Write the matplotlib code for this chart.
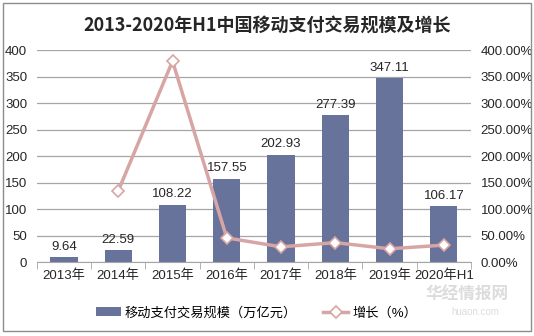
import matplotlib.pyplot as plt
import numpy as np
from matplotlib.patches import Rectangle
from matplotlib.ticker import FuncFormatter

plt.rcParams['font.family'] = ['Liberation Sans', 'Noto Sans CJK SC']

years = ["2013年", "2014年", "2015年", "2016年", "2017年", "2018年", "2019年", "2020年H1"]
scale = [9.64, 22.59, 108.22, 157.55, 202.93, 277.39, 347.11, 106.17]
growth = [np.nan, 134.3, 379.1, 45.6, 28.8, 36.7, 25.1, 32.0]

bar_color = "#67739A"
line_color = "#D8A5A5"
grid_color = "#A6A6A6"

fig = plt.figure(figsize=(5.34, 3.36), dpi=100)
fig.patches.append(Rectangle((0.006, 0.015), 0.988, 0.975, transform=fig.transFigure,
                             fill=False, edgecolor="#8C8C8C", linewidth=1.0))

ax = fig.add_axes([0.069, 0.22, 0.813, 0.631])
x = np.arange(len(years))

ax.bar(x, scale, width=0.5, color=bar_color, zorder=2, label="移动支付交易规模（万亿元）")
for xi, v in zip(x, scale):
    ax.text(xi, v + 8, f"{v:.2f}", ha="center", va="bottom", fontsize=9.5, color="#262626")

ax.set_ylim(0, 400)
ax.set_yticks(range(0, 401, 50))
ax.set_xlim(-0.5, len(years) - 0.5)
ax.set_xticks(x)
ax.set_xticklabels(years, fontsize=9.5, color="#262626")
ax.set_xticks(np.arange(-0.5, len(years), 1), minor=True)
ax.tick_params(axis="x", which="major", length=0, pad=5)
ax.tick_params(axis="x", which="minor", length=5, color=grid_color)
ax.tick_params(axis="y", length=0, labelsize=9.5, labelcolor="#262626", pad=7)
ax.grid(axis="y", color=grid_color, linewidth=0.9, zorder=0)
ax.set_axisbelow(True)
for s in ["top", "left", "right"]:
    ax.spines[s].set_visible(False)
ax.spines["bottom"].set_color(grid_color)

ax2 = ax.twinx()
ax2.plot(x, growth, color=line_color, linewidth=2.5, marker="D", markersize=6,
         markerfacecolor="white", markeredgecolor=line_color, markeredgewidth=1.2,
         zorder=3, label="增长（%）")
ax2.set_ylim(0, 400)
ax2.set_yticks(range(0, 401, 50))
ax2.yaxis.set_major_formatter(FuncFormatter(lambda v, p: f"{v:.2f}%"))
ax2.tick_params(axis="y", length=0, labelsize=9.5, labelcolor="#262626", pad=7)
for s in ax2.spines.values():
    s.set_visible(False)

fig.text(0.5, 0.925, "2013-2020年H1中国移动支付交易规模及增长", ha="center", va="center",
         fontsize=13, fontweight="bold", color="#262626",
         family=["Noto Sans CJK SC", "DejaVu Sans"])

h1, l1 = ax.get_legend_handles_labels()
h2, l2 = ax2.get_legend_handles_labels()
fig.legend(h1 + h2, l1 + l2, loc="center", bbox_to_anchor=(0.48, 0.068), ncol=2,
           frameon=False, fontsize=9.5, handlelength=1.9, handletextpad=0.3,
           columnspacing=2.0)

# watermark
fig.text(0.875, 0.122, "华经情报网", fontsize=12, color="#DCDCDC", fontweight="bold",
         ha="center", va="center", zorder=0)
fig.text(0.89, 0.07, "huaon.com", fontsize=7, color="#DCDCDC",
         ha="center", va="center", zorder=0)

fig.savefig("out.png", dpi=100)
